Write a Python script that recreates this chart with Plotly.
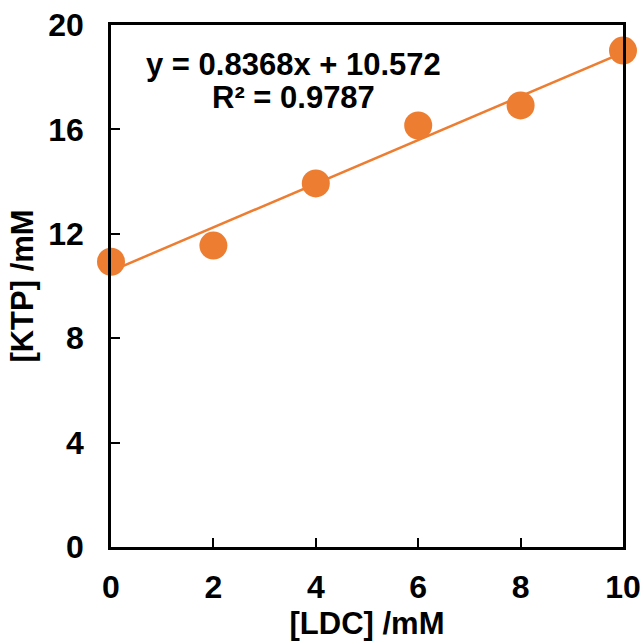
import plotly.graph_objects as go

ldc = [0, 2, 4, 6, 8, 10]
ktp = [10.93, 11.55, 13.93, 16.15, 16.92, 19.02]
fit_slope = 0.8368
fit_intercept = 10.572
fit_x = [0, 10]
eq_lines = ["y = 0.8368x + 10.572", "R² = 0.9787"]
x_ticks = [0, 2, 4, 6, 8, 10]
y_ticks = [0, 4, 8, 12, 16, 20]

orange = "#ED7D31"
font = "Liberation Sans, Arial, sans-serif"
tick_size = 32
title_size = 31
ann_size = 31

fig = go.Figure()
fig.add_trace(go.Scatter(
    x=fit_x, y=[fit_slope * v + fit_intercept for v in fit_x],
    mode="lines", line=dict(color=orange, width=2.5), showlegend=False,
    cliponaxis=False))
fig.add_trace(go.Scatter(
    x=ldc, y=ktp, mode="markers",
    marker=dict(color=orange, size=28, line=dict(width=0)),
    showlegend=False, cliponaxis=False))

fig.add_annotation(x=3.57, y=18.47, text="<b>%s</b>" % eq_lines[0], showarrow=False,
                   font=dict(family=font, size=ann_size, color="black"), xanchor="center", yanchor="middle")
fig.add_annotation(x=3.57, y=17.24, text="<b>%s</b>" % eq_lines[1], showarrow=False,
                   font=dict(family=font, size=ann_size, color="black"), xanchor="center", yanchor="middle")

axis_common = dict(
    showline=True, linecolor="black", linewidth=2.5, mirror=True,
    ticks="inside", ticklen=9, tickwidth=1.5, tickcolor="black",
    showgrid=False, zeroline=False, automargin=False,
    tickfont=dict(family=font, size=tick_size, color="black", weight="bold"),
)

fig.update_xaxes(range=[0, 10], tickvals=x_ticks, ticktext=[str(v) for v in x_ticks],
                 title=dict(text="<b>[LDC] /mM</b>", font=dict(family=font, size=title_size, color="black"), standoff=12),
                 ticklabelstandoff=10, **axis_common)
fig.update_yaxes(range=[0, 20], tickvals=y_ticks, ticktext=[str(v) for v in y_ticks],
                 title=dict(text="<b>[KTP] /mM</b>", font=dict(family=font, size=title_size, color="black"), standoff=6),
                 ticklabelstandoff=18, **axis_common)

fig.update_layout(
    width=642, height=641,
    margin=dict(l=111, r=19, t=25, b=94),
    paper_bgcolor="white", plot_bgcolor="white",
)

fig.write_html("out.html")
